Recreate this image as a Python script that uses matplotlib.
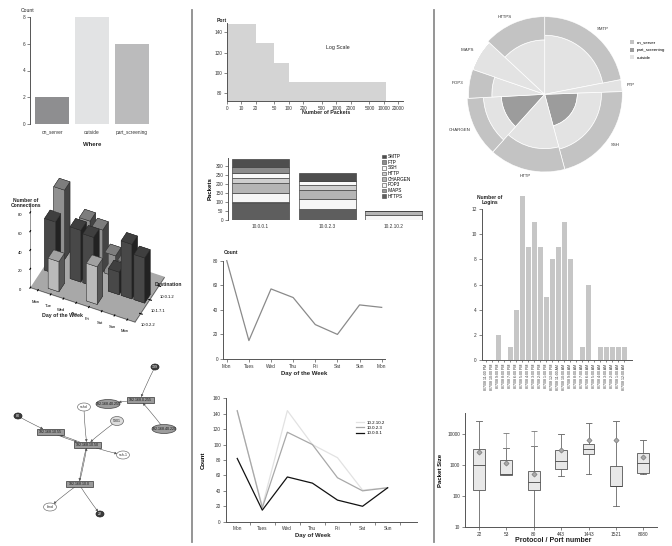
import numpy as np
import matplotlib
matplotlib.use("Agg")
import matplotlib.pyplot as plt
from matplotlib.patches import Ellipse, Rectangle, Patch
from matplotlib.lines import Line2D
from matplotlib.ticker import NullLocator, FixedLocator

plt.rcParams['font.family'] = ['Liberation Sans', 'DejaVu Sans']

# ---------------- data ----------------
where = ['on_server', 'outside', 'part_screening']
where_counts = [2, 8, 6]

conn_days = ['Mon', 'Tue', 'Wed', 'Thu', 'Fri', 'Sat', 'Sun', 'Mon']
destinations = ['10.0.2.2', '10.1.7.1', '10.0.1.2']
conn_front = [0, 32, 0, 0, 40, 0, 0, 0]        # 10.0.2.2
conn_mid = [55, 0, 55, 52, 0, 24, 58, 48]      # 10.1.7.1
conn_back = [74, 0, 50, 45, 22, 18, 0, 0]      # 10.0.1.2

graph_nodes = ['192.168.0.255', '139', '192.168.40.255', '192.168.40.220',
               '192.168.10.55', '80', '192.168.10.50', 'sshd', '5901',
               'ssh-1', '192.168.10.0', 'bind', '22']
graph_kind = ['rect', 'dark', 'gray', 'gray', 'rect', 'dark', 'rect',
              'white', 'light', 'white', 'rect', 'white', 'dark']
graph_x = [140, 155, 108, 164, 50, 18, 87, 84, 117, 123, 79, 50, 100]
graph_y = [400, 367, 404, 429, 432, 416, 445, 407, 421, 455, 484, 507, 514]
graph_edges = [(1, 0), (0, 2), (3, 0), (5, 4), (6, 4), (4, 6), (7, 6),
               (8, 6), (6, 9), (6, 10), (10, 6), (10, 11), (10, 12)]

pkt_edges = [0, 20, 50, 100, 11000]
port_level = [148, 129, 110, 91]
pkt_ticks = [0, 10, 20, 50, 100, 200, 500, 1000, 2000, 5000, 10000, 20000]

hosts = ['10.0.0.1', '10.0.2.3', '10.2.10.2']
protocols = ['SMTP', 'FTP', 'SSH', 'HTTP', 'CHARGEN', 'POP3', 'IMAPS', 'HTTPS']
pk_smtp = [41, 42, 0]
pk_ftp = [37, 0, 0]
pk_ssh = [24, 23, 0]
pk_http = [31, 27, 0]
pk_chargen = [52, 52, 22]
pk_pop3 = [52, 56, 28]
pk_imaps = [8, 0, 0]
pk_https = [92, 59, 0]

week_days = ['Mon', 'Tues', 'Wed', 'Thu', 'Fri', 'Sat', 'Sun', 'Mon']
daily_count = [80, 15, 57, 50, 28, 20, 44, 42]

days7 = ['Mon', 'Tues', 'Wed', 'Thu', 'Fri', 'Sat', 'Sun']
cnt_10_2_10_2 = [143, 20, 144, 100, 83, 41, 44]
cnt_10_0_2_3 = [144, 18, 116, 100, 57, 40, 44]
cnt_10_0_0_1 = [82, 15, 58, 50, 28, 20, 44]

services = ['SMTP', 'FTP', 'SSH', 'HTTP', 'CHARGEN', 'POP3', 'IMAPS', 'HTTPS']
svc_share = [79, 9, 77, 57, 45, 22, 24, 47]
svc_part = [0, 0, 4.2, 0, 5.6, 0, 0, 0]
svc_outside = [7.6, 10, 3.1, 7.0, 2.3, 6.8, 9.8, 7.0]
svc_onserver = [2.4, 0, 2.7, 3.0, 2.1, 3.0, 0, 3.0]

login_hours = ['8/7/08 11:00 PM', '8/7/08 10:00 PM', '8/7/08 9:00 PM', '8/7/08 8:00 PM',
               '8/7/08 7:00 PM', '8/7/08 6:00 PM', '8/7/08 5:00 PM', '8/7/08 4:00 PM',
               '8/7/08 3:00 PM', '8/7/08 2:00 PM', '8/7/08 1:00 PM', '8/7/08 12:00 PM',
               '8/7/08 11:00 AM', '8/7/08 10:00 AM', '8/7/08 9:00 AM', '8/7/08 8:00 AM',
               '8/7/08 7:00 AM', '8/7/08 6:00 AM', '8/7/08 5:00 AM', '8/7/08 4:00 AM',
               '8/7/08 3:00 AM', '8/7/08 2:00 AM', '8/7/08 1:00 AM', '8/7/08 12:00 AM']
logins = [0, 0, 2, 0, 1, 4, 13, 9, 11, 9, 5, 8, 9, 11, 8, 0, 1, 6, 0, 1, 1, 1, 1, 1]

ports = ['22', '53', '80', '443', '1443', '1521', '8080']
ps_low = [10, 465, 10, 435, 505, 49, 505]
ps_q1 = [155, 467, 155, 760, 2300, 208, 555]
ps_med = [1020, 500, 273, 1340, 3330, 208, 1190]
ps_q3 = [3160, 1410, 630, 3070, 4800, 950, 2400]
ps_high = [25300, 3570, 3950, 10000, 22500, 25300, 6400]
ps_max = [25300, 10800, 12000, 10000, 22500, 25300, 6400]
ps_mean = [2600, 1160, 495, 3070, 6400, 6400, 1800]

# ---------------- figure helpers ----------------
W, H = 672, 546
fig = plt.figure(figsize=(W / 100, H / 100), dpi=100)
INK = '#555555'
TICK = 3.4
TITLE = 4.3


def box(l, t, r, b):
    return [l / W, 1 - b / H, (r - l) / W, (b - t) / H]


def ftext(x, y, s, **kw):
    kw.setdefault('fontsize', TITLE)
    kw.setdefault('color', '#222222')
    kw.setdefault('ha', 'center')
    kw.setdefault('va', 'center')
    fig.text(x / W, 1 - y / H, s, **kw)


def style(ax, left=True, bottom=True):
    for s in ['top', 'right']:
        ax.spines[s].set_visible(False)
    ax.spines['left'].set_visible(left)
    ax.spines['bottom'].set_visible(bottom)
    for s in ['left', 'bottom']:
        ax.spines[s].set_color(INK)
        ax.spines[s].set_linewidth(0.7)
    ax.tick_params(labelsize=TICK, length=2, width=0.5, color=INK, pad=1.5,
                   labelcolor='#333333')
    ax.set_facecolor('none')


# column separators
for xs in (192, 434):
    fig.add_artist(Line2D([xs / W, xs / W], [1 - 10 / H, 1 - 542 / H],
                          transform=fig.transFigure, color='#8c8c8c', lw=1.3))

# ---------------- where bar chart ----------------
ax = fig.add_axes(box(30, 17, 152, 124))
ax.bar(range(len(where)), where_counts, width=0.85,
       color=['#8e8e90', '#e2e3e4', '#bbbbbc'])
ax.set_xlim(-0.55, 2.5)
ax.set_ylim(0, 8)
style(ax, bottom=False)
ax.set_yticks([0, 2, 4, 6, 8])
ax.set_xticks(range(len(where)), where)
ax.tick_params(axis='x', length=0, pad=4)
ftext(28, 10, 'Count', fontsize=3.6)
ftext(92, 144, 'Where', fontweight='bold')

# ---------------- 3D connections ----------------
ax3 = fig.add_axes(box(0, 155, 190, 330), projection='3d')
xs3, ys3, hs3, cs3 = [], [], [], []
row_colors = ['#d2d2d2', '#525252', '#a3a3a3']
for j, row in enumerate([conn_front, conn_mid, conn_back]):
    for i, v in enumerate(row):
        if v > 0:
            xs3.append(i)
            ys3.append(j)
            hs3.append(v)
            cs3.append(row_colors[j])
ax3.bar3d(np.array(xs3) - 0.42, np.array(ys3) - 0.3, np.zeros(len(hs3)),
          0.84, 0.6, hs3, color=cs3, shade=True, edgecolor='#2a2a2a', linewidth=0.3)
ax3.set_proj_type('ortho')
ax3.view_init(elev=45, azim=-65)
ax3.set_box_aspect((108, 65, 112), zoom=1.0)
ax3.set_xlim(-0.6, 7.6)
ax3.set_ylim(-0.6, 2.6)
ax3.set_zlim(0, 90)
ax3.set_xticks(range(len(conn_days)), conn_days)
ax3.set_yticks(range(len(destinations)), destinations)
ax3.set_zticks([0, 20, 40, 60, 80])
ax3.zaxis.set_ticks_position('lower')
ax3.grid(False)
ax3.xaxis.set_pane_color((1, 1, 1, 0))
ax3.yaxis.set_pane_color((1, 1, 1, 0))
ax3.zaxis.set_pane_color('#a8a8a8')
for a in (ax3.xaxis, ax3.yaxis, ax3.zaxis):
    a.line.set_linewidth(0.4)
    a.line.set_color('#444444')
ax3.tick_params(labelsize=3, pad=-3)
ax3.set_facecolor('none')
ftext(26, 203, 'Number of\nConnections', fontsize=3.6, fontweight='bold')
ftext(62, 315, 'Day of the Week', fontsize=3.8, fontweight='bold')
ftext(168, 284, 'Destination', fontsize=3.6, fontweight='bold')

# ---------------- network graph ----------------
axg = fig.add_axes(box(0, 350, 190, 546))
axg.set_xlim(0, 190)
axg.set_ylim(546, 350)
axg.set_axis_off()
node_style = {
    'rect': dict(w=27, h=6.5, fc='#9a9a9a', ec='#333333', tc='#111111'),
    'dark': dict(w=8, h=6, fc='#3c3c3c', ec='#222222', tc='#ffffff'),
    'gray': dict(w=24, h=9, fc='#9c9c9c', ec='#444444', tc='#111111'),
    'white': dict(w=13, h=8, fc='#ffffff', ec='#777777', tc='#333333'),
    'light': dict(w=13, h=9, fc='#dcdcdc', ec='#666666', tc='#222222'),
}
patches = []
for name, kind, gx, gy in zip(graph_nodes, graph_kind, graph_x, graph_y):
    st = node_style[kind]
    if kind == 'rect':
        p = Rectangle((gx - st['w'] / 2, gy - st['h'] / 2), st['w'], st['h'],
                      fc=st['fc'], ec=st['ec'], lw=0.5, zorder=3)
    else:
        p = Ellipse((gx, gy), st['w'], st['h'], fc=st['fc'], ec=st['ec'],
                    lw=0.5, zorder=3)
    axg.add_patch(p)
    patches.append(p)
    axg.text(gx, gy, name, fontsize=2.6, color=st['tc'], ha='center',
             va='center', zorder=4)
for a, b in graph_edges:
    axg.annotate('', xy=(graph_x[b], graph_y[b]), xytext=(graph_x[a], graph_y[a]),
                 arrowprops=dict(arrowstyle='-|>', color='#555555', lw=0.4,
                                 mutation_scale=3.5, patchA=patches[a],
                                 patchB=patches[b], shrinkA=0, shrinkB=0,
                                 connectionstyle='arc3,rad=0.03'), zorder=2)

# ---------------- log scale step chart ----------------
ax = fig.add_axes(box(227, 23, 403, 101))
ax.set_xscale('symlog', linthresh=10, linscale=0.27)
ax.stairs(port_level, pkt_edges, fill=True, color='#d4d4d4')
ax.set_xlim(0, 25400)
ax.set_ylim(72.4, 149.1)
style(ax)
ax.xaxis.set_major_locator(FixedLocator(pkt_ticks))
ax.set_xticklabels([str(t) for t in pkt_ticks])
ax.xaxis.set_minor_locator(NullLocator())
ax.set_yticks([80, 100, 120, 140])
ftext(222, 20, 'Port', fontsize=3.6, fontweight='bold')
ftext(338, 47, 'Log Scale', fontsize=3.8)
ftext(326, 113, 'Number of Packets', fontsize=3.8, fontweight='bold')

# ---------------- stacked packets ----------------
ax = fig.add_axes(box(228, 158, 425, 220))
stack = [('HTTPS', pk_https, '#5e5e5e'), ('IMAPS', pk_imaps, '#979797'),
         ('POP3', pk_pop3, '#f6f6f6'), ('CHARGEN', pk_chargen, '#b5b5b5'),
         ('HTTP', pk_http, '#cfcfcf'), ('SSH', pk_ssh, '#fafafa'),
         ('FTP', pk_ftp, '#8c8c8c'), ('SMTP', pk_smtp, '#4e4e4e')]
bottom = np.zeros(len(hosts))
handles = {}
for name, vals, col in stack:
    ax.bar(range(len(hosts)), vals, bottom=bottom, width=0.857, color=col,
           edgecolor='#444444', linewidth=0.5)
    bottom += np.array(vals)
    handles[name] = Patch(fc=col, ec='#444444', lw=0.4)
ax.set_xlim(-0.49, 2.47)
ax.set_ylim(0, 345)
style(ax, bottom=False)
ax.set_yticks([0, 50, 100, 150, 200, 250, 300])
ax.set_xticks(range(len(hosts)), hosts)
ax.tick_params(axis='x', length=0, pad=3)
ax.set_ylabel('Packets', fontsize=TITLE, fontweight='bold', labelpad=1.5)
fig.legend([handles[p] for p in protocols], protocols, loc='upper left',
           bbox_to_anchor=(382 / W, 1 - 154 / H), frameon=False, fontsize=3.3,
           handlelength=0.9, handleheight=0.9, handletextpad=0.4,
           labelspacing=0.15, borderpad=0, borderaxespad=0)

# ---------------- daily count line ----------------
ax = fig.add_axes(box(223, 258.2, 385, 359))
ax.plot(range(len(week_days)), daily_count, color='#8a8a8a', lw=0.9)
ax.set_xlim(-0.17, 7.15)
ax.set_ylim(0, 82)
style(ax)
ax.spines['left'].set_bounds(0, 80)
ax.set_yticks([0, 20, 40, 60, 80])
ax.set_xticks(range(len(week_days)), week_days)
ftext(231, 252, 'Count', fontsize=3.6, fontweight='bold')
ftext(304, 374, 'Day of the Week', fontweight='bold')

# ---------------- per-host lines ----------------
ax = fig.add_axes(box(225.7, 398.3, 416.7, 521.7))
ax.plot(range(7), cnt_10_2_10_2, color='#e2e2e2', lw=0.9, label='10.2.10.2')
ax.plot(range(7), cnt_10_0_2_3, color='#a8a8a8', lw=0.9, label='10.0.2.3')
ax.plot(range(7), cnt_10_0_0_1, color='#111111', lw=0.9, label='10.0.0.1')
ax.set_xlim(-0.46, 7.16)
ax.set_ylim(0, 160)
style(ax)
ax.set_yticks(range(0, 161, 20))
ax.set_xticks(range(7), days7)
ax.tick_params(axis='x', length=0, pad=3)
ax.xaxis.set_minor_locator(FixedLocator(np.arange(0.5, 7, 1.0)))
ax.tick_params(axis='x', which='minor', length=2.5, width=0.5, color=INK)
ax.set_ylabel('Count', fontsize=TITLE, fontweight='bold', labelpad=5)
ax.legend(loc='upper left', bbox_to_anchor=(0.68, 0.82), frameon=False,
          fontsize=3.2, handlelength=2.0, handletextpad=0.5, labelspacing=0.25,
          borderpad=0, borderaxespad=0)
ftext(313, 535, 'Day of Week', fontweight='bold')

# ---------------- service rose ----------------
axp = fig.add_axes(box(467, 16.6, 622.4, 172), projection='polar')
axp.set_theta_zero_location('N')
axp.set_theta_direction(-1)
share = np.radians(svc_share)
starts = np.concatenate([[0], np.cumsum(share)[:-1]])
mids = starts + share / 2
part = np.array(svc_part)
outside = np.array(svc_outside)
onserver = np.array(svc_onserver)
axp.bar(mids, part, width=share, color='#9c9c9c', edgecolor='white', linewidth=0.5,
        align='center')
axp.bar(mids, outside, width=share, bottom=part, color='#e3e3e3', edgecolor='white',
        linewidth=0.5)
axp.bar(mids, onserver, width=share, bottom=part + outside, color='#c3c3c3',
        edgecolor='white', linewidth=0.5)
axp.set_ylim(0, 10)
axp.set_axis_off()
for name, m in zip(services, mids):
    s, c = np.sin(m), np.cos(m)
    ha = 'left' if s > 0.3 else ('right' if s < -0.3 else 'center')
    va = 'bottom' if c > 0.5 else ('top' if c < -0.5 else 'center')
    axp.text(m, 10.6, name, fontsize=3.2, ha=ha, va=va, color='#333333')
fig.legend([Patch(fc='#c3c3c3'), Patch(fc='#9c9c9c'), Patch(fc='#e3e3e3')],
           ['on_server', 'part_screening', 'outside'], loc='upper left',
           bbox_to_anchor=(630 / W, 1 - 40 / H), frameon=False, fontsize=3.2,
           handlelength=1.0, handleheight=1.0, handletextpad=0.5,
           labelspacing=0.7, borderpad=0, borderaxespad=0)

# ---------------- logins ----------------
ax = fig.add_axes(box(481.7, 195.2, 631.7, 360))
ax.bar(range(len(logins)), logins, width=0.89, color='#c6c6c6')
ax.set_xlim(-0.77, 24.2)
ax.set_ylim(0, 13.1)
style(ax)
ax.spines['left'].set_bounds(0, 12)
ax.set_yticks(range(0, 13, 2))
ax.set_xticks(range(len(login_hours)), login_hours, rotation=90)
ax.tick_params(axis='x', labelsize=2.6, length=1.2, pad=1.5)
ftext(490, 200, 'Number of\nLogins', fontsize=3.6, fontweight='bold', linespacing=1.0)

# ---------------- packet size box plot ----------------
ax = fig.add_axes(box(465, 412.7, 657, 527.3))
stats = [dict(whislo=lo, q1=q1, med=md, q3=q3, whishi=hi, fliers=[])
         for lo, q1, md, q3, hi in zip(ps_low, ps_q1, ps_med, ps_q3, ps_high)]
ax.bxp(stats, positions=range(len(ports)), widths=0.43, patch_artist=True,
       showfliers=False,
       boxprops=dict(facecolor='#e8e8e8', edgecolor='#555555', linewidth=0.6),
       medianprops=dict(color='#444444', linewidth=0.6),
       whiskerprops=dict(color='#666666', linewidth=0.6),
       capprops=dict(color='#666666', linewidth=0.6))
ax.vlines(range(len(ports)), ps_high, ps_max, color='#a0a0a0', lw=0.6)
ax.hlines(ps_max, np.arange(len(ports)) - 0.11, np.arange(len(ports)) + 0.11,
          color='#777777', lw=0.6)
ax.plot(range(len(ports)), ps_mean, ls='none', marker='D', ms=2.6,
        mfc='#a9a9a9', mec='#7a7a7a', mew=0.5)
ax.set_yscale('log')
ax.set_ylim(10, 47000)
ax.set_xlim(-0.51, 6.5)
style(ax)
ax.yaxis.set_major_locator(FixedLocator([10, 100, 1000, 10000]))
ax.set_yticklabels(['10', '100', '1000', '10000'])
ax.yaxis.set_minor_locator(NullLocator())
ax.set_xticks(range(len(ports)), ports)
ax.set_ylabel('Packet Size', fontsize=TITLE, fontweight='bold', labelpad=3)
ftext(553, 541, 'Protocol / Port number', fontsize=5, fontweight='bold')

fig.savefig('out.png', dpi=100, facecolor='white')
